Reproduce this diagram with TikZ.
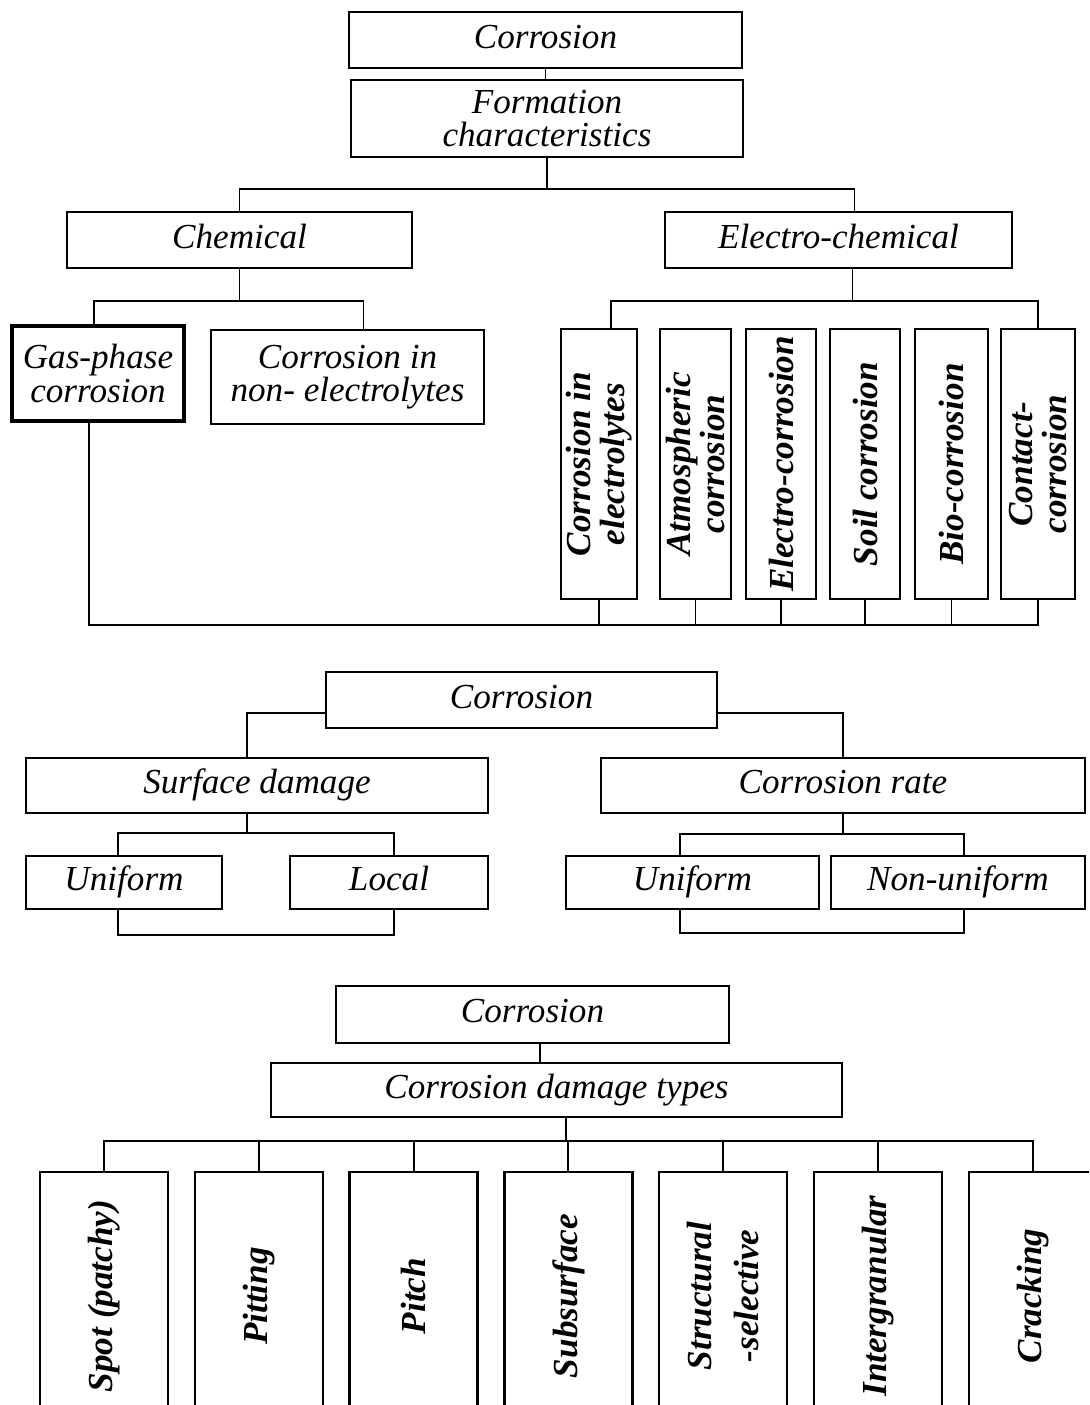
\documentclass[tikz,border=0pt]{standalone}
\usepackage{fontspec}
\setmainfont{Liberation Serif}
\usepackage{tikz}

\begin{document}
\begin{tikzpicture}[
  box/.style  = {draw, line width=1.4pt, inner sep=2pt, align=center,
                 font=\fontsize{20}{19}\selectfont\itshape},
  hbox/.style = {box, text height=14pt, text depth=4.5pt},
  vbox/.style = {box, rotate=90, inner sep=1pt,
                 font=\fontsize{20}{19}\selectfont\bfseries\itshape},
  link/.style = {line width=1.1pt},
]
\useasboundingbox (0,0) rectangle (21.78,-28.10);
\clip (0,0) rectangle (21.78,-28.10);

% Part 1: formation characteristics
\node[hbox, minimum width=7.86cm, minimum height=1.12cm] (cor1)  at (10.91,-0.80) {Corrosion};
\node[box,  minimum width=7.84cm, minimum height=1.54cm] (form)  at (10.94,-2.37) {Formation\\characteristics};
\node[hbox, minimum width=6.90cm, minimum height=1.12cm] (chem)  at (4.79,-4.80)  {Chemical};
\node[hbox, minimum width=6.94cm, minimum height=1.12cm] (elec)  at (16.77,-4.80) {Electro-chemical};
\node[box, line width=2.2pt, minimum width=3.44cm, minimum height=1.90cm] (gas) at (1.96,-7.47) {Gas-phase\\corrosion};
\node[box,  minimum width=5.46cm, minimum height=1.88cm] (nonel) at (6.95,-7.54)  {Corrosion in\\non- electrolytes};

% vertical boxes (rotated: east = top, west = bottom)
\node[vbox, minimum width=5.40cm, minimum height=1.52cm] (v1) at (11.98,-9.28) {Corrosion in\\electrolytes};
\node[vbox, minimum width=5.40cm, minimum height=1.42cm] (v2) at (13.91,-9.28) {Atmospheric\\corrosion};
\node[vbox, minimum width=5.40cm, minimum height=1.40cm] (v3) at (15.62,-9.28) {Electro-corrosion};
\node[vbox, minimum width=5.40cm, minimum height=1.40cm] (v4) at (17.30,-9.28) {Soil corrosion};
\node[vbox, minimum width=5.40cm, minimum height=1.46cm] (v5) at (19.03,-9.28) {Bio-corrosion};
\node[vbox, minimum width=5.40cm, minimum height=1.48cm] (v6) at (20.76,-9.28) {Contact-\\corrosion};

\draw[link] (cor1.south) -- (cor1.south |- form.north);
\draw[link] (form.south) -- ++(0,-0.62) -| (chem.north);
\draw[link] (form.south) -- ++(0,-0.62) -| ([xshift=0.32cm]elec.north);
\draw[link] (chem.south) -- ++(0,-0.64) -| ([xshift=-0.08cm]gas.north);
\draw[link] (chem.south) -- ++(0,-0.64) -| ([xshift=0.32cm]nonel.north);
\draw[link] ([xshift=0.28cm]elec.south) -- ++(0,-0.64) -| ([xshift=0.24cm]v1.east);
\draw[link] ([xshift=0.28cm]elec.south) -- ++(0,-0.64) -| (v6.east);
\foreach \n in {v1,v2,v3,v4,v5,v6}
  \draw[link] (\n.west) -- ++(0,-0.48);
\draw[link] ([xshift=-0.18cm]gas.south) -- ++(0,-4.04) -| (v6.west);

% Part 2: surface damage / rate
\node[hbox, minimum width=7.82cm, minimum height=1.12cm] (cor2) at (10.43,-14.00) {Corrosion};
\node[hbox, minimum width=9.24cm, minimum height=1.10cm] (surf) at (5.14,-15.71)  {Surface damage};
\node[hbox, minimum width=9.68cm, minimum height=1.10cm] (rate) at (16.86,-15.71) {Corrosion rate};
\node[hbox, minimum width=3.92cm, minimum height=1.06cm] (uni1) at (2.48,-17.65)  {Uniform};
\node[hbox, minimum width=3.96cm, minimum height=1.06cm] (loc)  at (7.78,-17.65)  {Local};
\node[hbox, minimum width=5.06cm, minimum height=1.06cm] (uni2) at (13.85,-17.65) {Uniform};
\node[hbox, minimum width=5.08cm, minimum height=1.06cm] (nonu) at (19.16,-17.65) {Non-uniform};

\draw[link] ([yshift=-0.26cm]cor2.west) -| ([xshift=-0.20cm]surf.north);
\draw[link] ([yshift=-0.26cm]cor2.east) -| (rate.north);
\draw[link] ([xshift=-0.20cm]surf.south) -- ++(0,-0.38) -| ([xshift=-0.12cm]uni1.north);
\draw[link] ([xshift=-0.20cm]surf.south) -- ++(0,-0.38) -| ([xshift=0.10cm]loc.north);
\draw[link] ([xshift=-0.12cm]uni1.south) -- ++(0,-0.50) -| ([xshift=0.10cm]loc.south);
\draw[link] (rate.south) -- ++(0,-0.40) -| ([xshift=-0.25cm]uni2.north);
\draw[link] (rate.south) -- ++(0,-0.40) -| ([xshift=0.12cm]nonu.north);
\draw[link] ([xshift=-0.25cm]uni2.south) -- ++(0,-0.46) -| ([xshift=0.12cm]nonu.south);

% Part 3: damage types
\node[hbox, minimum width=7.86cm, minimum height=1.14cm]  (cor3) at (10.65,-20.29) {Corrosion};
\node[hbox, minimum width=11.42cm, minimum height=1.08cm] (dmg)  at (11.13,-21.80) {Corrosion damage types};
\draw[link] ([xshift=0.15cm]cor3.south) -- ([xshift=0.15cm]cor3.south |- dmg.north);

\foreach \lbl [count=\i] in {Spot (patchy), Pitting, Pitch, Subsurface,
    {Structural\\[8pt]-selective}, Intergranular, Cracking} {
  \node[vbox, minimum width=4.96cm, minimum height=2.56cm] (t\i) at ({2.08+3.096*(\i-1)},-25.92) {\lbl};
  \draw[link] ([xshift=0.19cm]dmg.south) -- ++(0,-0.46) -| (t\i.east);
}

\end{tikzpicture}
\end{document}
